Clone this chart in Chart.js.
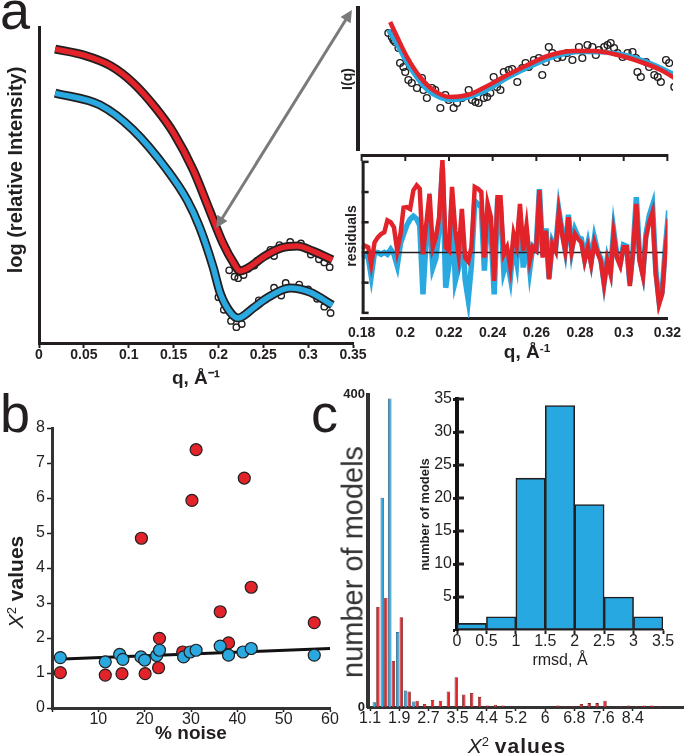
<!DOCTYPE html>
<html><head><meta charset="utf-8">
<script src="https://cdn.jsdelivr.net/npm/chart.js@4.4.1/dist/chart.umd.min.js"></script>
<style>
html,body{margin:0;padding:0;background:#fff;}
#wrap{position:relative;width:689px;height:754px;overflow:hidden;font-family:"Liberation Sans",Arial,Helvetica,sans-serif;color:#231f20;}
canvas{position:absolute;}
.lbl{position:absolute;white-space:nowrap;line-height:1;}
.ctr{transform:translate(-50%,-50%);}
.rot{transform:translate(-50%,-50%) rotate(-90deg);}
.sup{font-size:0.62em;position:relative;top:-0.55em;}
</style></head><body><div id="wrap">
<canvas id="cA" width="375" height="395" style="left:0;top:0"></canvas>
<canvas id="cB" width="349" height="160" style="left:340px;top:0"></canvas>
<canvas id="cC" width="349" height="216" style="left:340px;top:150px"></canvas>
<canvas id="cD" width="345" height="369" style="left:0;top:385px"></canvas>
<canvas id="cE" width="349" height="369" style="left:340px;top:385px"></canvas>
<canvas id="cF" width="274" height="280" style="left:415px;top:390px"></canvas>

<div class="lbl" style="left:0;top:-17px;font-size:54px">a</div>
<div class="lbl" style="left:0;top:386px;font-size:54px">b</div>
<div class="lbl" style="left:311px;top:386px;font-size:54px">c</div>
<div class="lbl rot" style="left:15px;top:170px;font-size:20px;font-weight:bold">log (relative Intensity)</div>
<div class="lbl ctr" style="left:527px;top:351px;font-size:19px;font-weight:bold">q, Å<span class="sup">-1</span></div>
<div class="lbl rot" style="left:15px;top:582px;font-size:21px"><i>X</i><span class="sup">2</span> <b>values</b></div>
<div class="lbl rot" style="left:353px;top:562px;font-size:29px;color:#333">number of models</div>
<div class="lbl ctr" style="left:517px;top:745px;font-size:21px"><i>X</i><span class="sup">2</span> <b style="letter-spacing:1px">values</b></div>

<svg style="position:absolute;left:0;top:0" width="689" height="754">
<defs><marker id="ah" viewBox="0 0 10 10" refX="7" refY="5" markerWidth="4.5" markerHeight="4" orient="auto-start-reverse"><path d="M0,0 L10,5 L0,10 z" fill="#7a7a7a"/></marker></defs>
<line x1="218" y1="225" x2="350" y2="13" stroke="#7a7a7a" stroke-width="3" marker-start="url(#ah)" marker-end="url(#ah)"/>
</svg>
</div>
<script>
// ---------- Panel a: main SAXS curves ----------
const qRedA   = [0.018,0.05,0.08,0.105,0.13,0.15,0.172,0.19,0.205,0.217,0.224,0.235,0.25,0.27,0.288,0.305,0.327];
const logRedA = [9.30,9.11,8.77,8.23,7.44,6.65,5.47,4.21,3.16,2.53,2.28,2.41,2.72,3.01,3.07,2.91,2.63];
const qBlueA   = [0.018,0.068,0.105,0.143,0.165,0.179,0.194,0.202,0.213,0.222,0.239,0.254,0.280,0.302,0.327];
const logBlueA = [7.91,7.53,6.74,5.47,4.53,3.67,2.41,1.58,0.98,0.79,1.11,1.42,1.74,1.61,1.20];
const qRedPts   = [0.212,0.218,0.222,0.228,0.233,0.240,0.243,0.258,0.262,0.268,0.280,0.292,0.303,0.312,0.318,0.324];
const logRedPts = [2.30,2.10,2.05,2.15,2.35,2.45,2.60,2.95,2.75,3.10,3.20,3.15,2.80,2.65,2.55,2.40];
const qBluePts   = [0.200,0.206,0.214,0.220,0.226,0.232,0.245,0.262,0.270,0.275,0.290,0.300,0.310,0.318,0.325];
const logBluePts = [1.45,1.05,0.70,0.50,0.60,0.95,1.35,1.75,1.50,1.90,1.85,1.70,1.40,1.15,0.95];
const qaTicks = [0,0.05,0.1,0.15,0.2,0.25,0.3,0.35];

// ---------- Panel a: I(q) zoom ----------
const qRedI = [0.1943,0.1974,0.2018,0.2076,0.2134,0.2210,0.2286,0.2357,0.2464,0.2553,0.2643,0.2759,0.2848,0.2937,0.3057,0.3146,0.3213];
const iRed  = [126,111,91,71,58,51,53,60,73,83,92,97,97,94,86,78,69];
const qBlueI = [0.1934,0.1974,0.2018,0.2108,0.2224,0.2357,0.2464,0.2553,0.2669,0.2790,0.2937,0.3088,0.3213];
const iBlue  = [118,103,85,58,48,56,70,80,91,96,95,86,73];
const qObs = [0.1935,0.1950,0.1957,0.1965,0.1980,0.1987,0.2002,0.2010,0.2024,0.2039,0.2062,0.2084,0.2091,0.2106,0.2129,0.2143,0.2166,0.2188,0.2203,0.2225,0.2240,0.2262,0.2292,0.2307,0.2322,0.2336,0.2359,0.2374,0.2388,0.2403,0.2418,0.2433,0.2448,0.2470,0.2485,0.2508,0.2530,0.2545,0.2559,0.2582,0.2604,0.2619,0.2634,0.2648,0.2664,0.2686,0.2708,0.2730,0.2753,0.2782,0.2797,0.2820,0.2842,0.2857,0.2871,0.2894,0.2909,0.2923,0.2938,0.2953,0.2976,0.2998,0.3020,0.3035,0.3042,0.3057,0.3080,0.3094,0.3117,0.3132,0.3146,0.3169,0.3183,0.3206];
const iObs = [115,111,108,106,100,85,81,76,68,65,60,70,58,50,60,58,40,53,48,40,45,50,58,48,46,45,50,51,55,71,61,58,76,78,79,66,80,85,81,88,90,73,86,101,95,90,91,95,88,101,90,103,101,93,98,101,103,105,100,95,91,95,96,90,76,71,86,81,73,71,66,88,85,61];

// ---------- Panel a: residuals ----------
const qRes = [0.1800,0.1815,0.1830,0.1844,0.1859,0.1874,0.1889,0.1904,0.1918,0.1933,0.1948,0.1963,0.1978,0.1992,0.2007,0.2022,0.2037,0.2052,0.2066,0.2081,0.2096,0.2111,0.2126,0.2140,0.2155,0.2170,0.2185,0.2200,0.2214,0.2229,0.2244,0.2259,0.2274,0.2288,0.2303,0.2318,0.2333,0.2348,0.2362,0.2377,0.2392,0.2407,0.2422,0.2436,0.2451,0.2466,0.2481,0.2496,0.2510,0.2525,0.2540,0.2555,0.2570,0.2584,0.2599,0.2614,0.2629,0.2644,0.2658,0.2673,0.2688,0.2703,0.2718,0.2732,0.2747,0.2762,0.2777,0.2792,0.2806,0.2821,0.2836,0.2851,0.2866,0.2880,0.2895,0.2910,0.2925,0.2940,0.2954,0.2969,0.2984,0.2999,0.3014,0.3028,0.3043,0.3058,0.3073,0.3088,0.3102,0.3117,0.3132,0.3147,0.3162,0.3176,0.3191,0.3206];
const resRed = [0.11,0.22,0.17,-0.39,0.33,0.50,0.61,0.67,1.06,1.00,0.83,0.06,0.61,1.48,1.50,1.44,2.06,2.22,2.11,-0.06,0.94,1.94,0.17,0.50,1.17,3.06,0.17,0.06,2.17,0.72,-0.06,1.44,-0.17,-0.30,0.17,2.17,2.11,2.00,-0.17,1.61,1.17,-0.94,1.83,1.83,-0.06,0.17,-0.50,0.61,0.22,1.61,0.06,0.89,-0.28,0.17,0.06,2.06,-0.17,0.72,-0.89,0.28,0.06,1.33,0.61,0.06,1.17,0.06,0.61,0.44,0.33,-0.28,0.17,-0.39,0.33,0.00,-0.28,-1.06,-0.28,-0.72,0.61,-0.17,-0.44,0.17,0.17,-1.11,0.06,1.61,-0.28,-0.78,0.50,1.00,1.33,-0.72,-1.72,-1.39,0.06,1.11];
const resBlue = [-0.17,-0.10,-0.15,-0.78,0.00,0.00,-0.06,0.00,-0.06,0.10,-0.06,-0.44,0.30,0.60,0.90,1.10,1.20,1.11,0.90,-1.39,0.50,1.20,-0.50,-0.20,0.80,2.80,-1.17,-0.40,1.70,-0.94,-0.50,0.90,-0.90,-1.56,-0.40,1.70,1.60,1.50,-0.60,1.20,0.80,-1.39,1.60,1.50,-0.60,-0.20,-0.83,0.30,-0.30,1.30,-0.50,0.60,-0.56,0.20,0.10,2.10,-0.10,0.80,-0.85,0.35,0.10,1.40,0.70,0.10,1.25,0.10,0.75,0.50,0.45,-0.20,0.30,-0.30,0.48,0.05,-0.20,-1.00,-0.20,-0.60,0.72,-0.10,-0.35,0.25,0.20,-1.00,0.10,1.83,-0.20,-0.70,0.60,1.22,1.56,-0.60,-1.60,-1.30,0.20,1.39];
const qrTicks = [0.18,0.2,0.22,0.24,0.26,0.28,0.3,0.32];
const resTicks = [-2,-1,0,1,2,3];

// ---------- Panel b ----------
const noiseRed = [1.8,11.5,15.1,20.1,23.0,23.2,19.3,30.2,31.1,28.2,36.3,38.1,41.5,43.0,56.6];
const chiRed   = [1.01,0.94,0.98,0.98,1.15,1.99,4.85,5.93,7.38,1.60,2.75,1.86,6.57,3.45,2.44];
const noiseBlue = [1.8,11.5,14.6,15.3,19.2,20.0,22.6,23.2,28.4,29.8,31.1,36.3,38.1,41.2,43.0,56.6];
const chiBlue   = [1.44,1.32,1.53,1.39,1.46,1.37,1.50,1.65,1.46,1.60,1.65,1.77,1.51,1.60,1.70,1.51];
const fitX = [1,60];
const fitY = [1.39,1.70];

// ---------- Panel c ----------
const binCenters = [1.27,1.49,1.70,1.92,2.14,2.36,2.57,2.79,3.01,3.23,3.45,3.66,3.88,4.10,4.32,4.54,4.75,4.97,5.19,5.41,5.62,5.84,6.06,6.28,6.50,6.71,6.93,7.15,7.37,7.59,7.80,8.02,8.24,8.46,8.68,8.89,9.11];
const countsBlue = [6,268,395,96,21,7,0,0,0,0,0,0,0,0,0,0,0,0,0,0,0,0,0,0,0,0,0,0,0,0,0,0,0,0,0,0,0];
const countsRed  = [128,140,59,115,20,8,4,9,8,20,38,16,18,13,2,3,2,0,0,0,0,0,0,2,1,1,4,5,5,8,0,1,2,1,2,2,1];
const histTickValues = [1.1,1.9125,2.725,3.5375,4.35,5.1625,5.975,6.7875,7.6,8.4125];
const histTickLabels = ['1.1','1.9','2.7','3.5','4.4','5.2','6','6.8','7.6','8.4'];
const rmsdCenters = [0.25,0.75,1.25,1.75,2.25,2.75,3.25];
const rmsdCounts  = [1,2,23,34,19,5,2];

// ---------- common ----------
const RED='#E3232A', BLUE='#29A9E0', INK='#231f20';
const FONT="'Liberation Sans', Arial, Helvetica, sans-serif";
Chart.defaults.font.family=FONT;
Chart.defaults.color=INK;
Chart.defaults.animation=false;
Chart.defaults.plugins.legend.display=false;
Chart.defaults.plugins.tooltip.enabled=false;
const pts=(xs,ys)=>xs.map((x,i)=>({x:x,y:ys[i]}));
const base={responsive:false,devicePixelRatio:1,animation:false,events:[]};
const lineDs=(d,color,w,order)=>({data:d,showLine:true,borderColor:color,borderWidth:w,pointRadius:0,cubicInterpolationMode:'monotone',fill:false,order:order});
const circDs=(d,r,order)=>({data:d,showLine:false,pointStyle:'circle',pointRadius:r,pointBorderWidth:1.4,pointBorderColor:INK,pointBackgroundColor:'rgba(0,0,0,0)',borderColor:INK,backgroundColor:'rgba(0,0,0,0)',order:order});
const fmt=v=>String(+(+v).toFixed(3));

// Chart A
new Chart(document.getElementById('cA'),{type:'scatter',
 data:{datasets:[
  lineDs(pts(qRedA,logRedA),INK,9,6),
  lineDs(pts(qBlueA,logBlueA),INK,9,5),
  circDs(pts(qRedPts,logRedPts),3.2,4),
  circDs(pts(qBluePts,logBluePts),3.2,3),
  lineDs(pts(qRedA,logRedA),RED,5.5,2),
  lineDs(pts(qBlueA,logBlueA),BLUE,5.5,1)
 ]},
 options:Object.assign({},base,{
  layout:{padding:{top:27,right:22,left:0,bottom:0}},
  scales:{
   x:{type:'linear',min:0,max:0.35,offset:false,
      afterFit(s){s.height=52;},
      afterBuildTicks(s){s.ticks=qaTicks.map(v=>({value:v}));},
      ticks:{font:{weight:'bold',size:14,lineHeight:1},padding:0,maxRotation:0,autoSkip:false,callback:v=>fmt(v)},
      grid:{display:true,drawOnChartArea:false,drawTicks:true,tickLength:5,tickWidth:2,tickColor:INK,offset:false},
      border:{display:true,width:3,color:INK},
      title:{display:true,text:'q, Å⁻¹',font:{weight:'bold',size:19},padding:{top:0,bottom:5}}},
   y:{type:'linear',min:0,max:10,
      afterFit(s){s.width=39;},
      ticks:{display:false},grid:{display:false,drawTicks:false},
      border:{display:true,width:3,color:INK}}
  }})
});

// Chart B
new Chart(document.getElementById('cB'),{type:'scatter',
 data:{datasets:[
  circDs(pts(qObs,iObs),3.4,3),
  lineDs(pts(qBlueI,iBlue),BLUE,4.5,2),
  lineDs(pts(qRedI,iRed),RED,4.5,1)
 ]},
 options:Object.assign({},base,{
  layout:{padding:{top:8,right:16,left:0,bottom:10}},
  scales:{
   x:{type:'linear',min:0.18,max:0.32,display:false},
   y:{type:'linear',min:-2,max:140,
      afterFit(s){s.width=18;},
      ticks:{display:false},grid:{display:false,drawTicks:false},
      border:{display:true,width:4,color:INK},
      title:{display:true,text:'I(q)',font:{weight:'bold',size:14,lineHeight:1.1},padding:{top:0,bottom:0}}}
  }})
});

// Chart C residuals
const resFrame={id:'resFrame',afterDraw(ch){
 const ctx=ch.ctx,a=ch.chartArea,x=ch.scales.x,y=ch.scales.y;
 ctx.save();ctx.strokeStyle=INK;ctx.lineCap='butt';
 ctx.lineWidth=3;ctx.beginPath();ctx.moveTo(a.left,a.top+1.5);ctx.lineTo(a.right,a.top+1.5);ctx.stroke();
 ctx.lineWidth=2;
 qrTicks.forEach(v=>{const p=x.getPixelForValue(v);ctx.beginPath();ctx.moveTo(p,a.top);ctx.lineTo(p,a.top+7);ctx.stroke();});
 const yt=y.getPixelForValue(resTicks[resTicks.length-1]),yb=y.getPixelForValue(resTicks[0]);
 ctx.lineWidth=3;ctx.beginPath();ctx.moveTo(a.left+1.5,yt);ctx.lineTo(a.left+1.5,yb);ctx.stroke();
 ctx.lineWidth=2.5;
 resTicks.forEach(v=>{const p=y.getPixelForValue(v);ctx.beginPath();ctx.moveTo(a.left,p);ctx.lineTo(a.left+7,p);ctx.stroke();});
 ctx.restore();}};
new Chart(document.getElementById('cC'),{type:'scatter',
 data:{datasets:[
  Object.assign(lineDs(pts(qRes,resBlue),BLUE,5.5,3),{cubicInterpolationMode:'default',tension:0}),
  Object.assign(lineDs(pts(qrTicks.slice(0,1).concat(qrTicks.slice(-1)),[0,0]),INK,1.5,2),{cubicInterpolationMode:'default',tension:0}),
  Object.assign(lineDs(pts(qRes,resRed),RED,4.5,1),{cubicInterpolationMode:'default',tension:0})
 ]},
 options:Object.assign({},base,{
  layout:{padding:{top:4,right:17,left:0,bottom:0}},
  scales:{
   x:{type:'linear',min:0.18,max:0.32,offset:false,
      afterFit(s){s.height=48;},
      afterBuildTicks(s){s.ticks=qrTicks.map(v=>({value:v}));},
      ticks:{font:{weight:'bold',size:14,lineHeight:1},padding:8,maxRotation:0,autoSkip:false,callback:v=>fmt(v)},
      grid:{display:false,drawTicks:false},
      border:{display:true,width:3,color:INK}},
   y:{type:'linear',min:-2.17,max:3.26,
      afterFit(s){s.width=17;},
      ticks:{display:false},grid:{display:false,drawTicks:false},
      border:{display:false},
      title:{display:true,text:'residuals',font:{weight:'bold',size:14,lineHeight:1.1},padding:{top:0,bottom:0}}}
  }}),
 plugins:[resFrame]
});

// Chart D panel b
const dot=(d,color,order)=>({data:d,showLine:false,pointStyle:'circle',pointRadius:6,pointBorderWidth:1.2,pointBorderColor:INK,pointBackgroundColor:color,backgroundColor:color,borderColor:INK,order:order});
new Chart(document.getElementById('cD'),{type:'scatter',
 data:{datasets:[
  dot(pts(noiseBlue,chiBlue),BLUE,1),
  dot(pts(noiseRed,chiRed),RED,2),
  Object.assign(lineDs(pts(fitX,fitY),'#111',3,3),{cubicInterpolationMode:'default'})
 ]},
 options:Object.assign({},base,{
  layout:{padding:{top:43,right:15,left:0,bottom:0}},
  scales:{
   x:{type:'linear',min:0,max:60,offset:false,
      afterFit(s){s.height=46;},
      ticks:{stepSize:10,font:{size:16,lineHeight:1},padding:0,maxRotation:0,autoSkip:false,callback:v=>v===0?'':v},
      grid:{display:true,drawOnChartArea:false,tickLength:4,tickWidth:1.5,tickColor:INK,offset:false},
      border:{display:true,width:3,color:'#333'},
      title:{display:true,text:'% noise',font:{weight:'bold',size:19},padding:{top:0,bottom:9}}},
   y:{type:'linear',min:0,max:8,
      afterFit(s){s.width=52;},
      ticks:{stepSize:1,font:{size:16,lineHeight:1},padding:2},
      grid:{display:true,drawOnChartArea:false,tickLength:5,tickWidth:1.5,tickColor:INK},
      border:{display:true,width:3,color:'#333'}}
  }})
});

// Chart E histogram
new Chart(document.getElementById('cE'),{type:'bar',
 data:{datasets:[
  {data:pts(binCenters,countsBlue),backgroundColor:BLUE,borderColor:'#25506e',borderWidth:0.8,categoryPercentage:0.95,barPercentage:0.95},
  {data:pts(binCenters,countsRed),backgroundColor:RED,borderColor:'#7a1b1b',borderWidth:0.8,categoryPercentage:0.95,barPercentage:0.95}
 ]},
 options:Object.assign({},base,{
  layout:{padding:{top:5,right:6,left:0,bottom:0}},
  scales:{
   x:{type:'linear',min:1.044,max:9.81,offset:false,
      afterFit(s){s.height=47;},
      afterBuildTicks(s){s.ticks=histTickValues.map(v=>({value:v}));},
      ticks:{font:{size:16,lineHeight:1},padding:0,maxRotation:0,autoSkip:false,callback:(v,i)=>histTickLabels[i]},
      grid:{display:true,drawOnChartArea:false,tickLength:4,tickWidth:1.5,tickColor:INK,offset:false},
      border:{display:true,width:3,color:'#333'}},
   y:{type:'linear',min:0,max:400,
      afterFit(s){s.width=28;},
      ticks:{stepSize:400,font:{size:13,weight:'bold',lineHeight:1},padding:3},
      grid:{display:false,drawTicks:false},
      border:{display:true,width:4,color:'#333'}}
  }})
});

// Chart F inset
const innerTicks={id:'innerTicks',afterDraw(ch){
 const ctx=ch.ctx,y=ch.scales.y,L=ch.chartArea.left;
 ctx.save();ctx.strokeStyle=INK;ctx.lineWidth=3;
 y.ticks.forEach(t=>{if(t.value===0)return;const p=y.getPixelForValue(t.value);ctx.beginPath();ctx.moveTo(L,p);ctx.lineTo(L+7,p);ctx.stroke();});
 ctx.restore();}};
new Chart(document.getElementById('cF'),{type:'bar',
 data:{datasets:[
  {data:pts(rmsdCenters,rmsdCounts),backgroundColor:'#27A8E0',borderColor:INK,borderWidth:1.6,borderSkipped:false,categoryPercentage:1,barPercentage:1}
 ]},
 options:Object.assign({},base,{
  layout:{padding:{top:5,right:26,left:0,bottom:0}},
  scales:{
   x:{type:'linear',min:0,max:3.5,offset:false,
      afterFit(s){s.height=40;},
      ticks:{stepSize:0.5,font:{size:16,lineHeight:1},padding:0,maxRotation:0,autoSkip:false,callback:v=>fmt(v)},
      grid:{display:true,drawOnChartArea:false,tickLength:4,tickWidth:2,tickColor:INK,offset:false},
      border:{display:true,width:1.5,color:INK},
      title:{display:true,text:'rmsd, Å',font:{size:16},padding:{top:0,bottom:0}}},
   y:{type:'linear',min:0,max:35,
      afterFit(s){s.width=42;},
      ticks:{stepSize:5,font:{size:16,lineHeight:1},padding:1,callback:v=>v===0?'':v},
      grid:{display:true,drawOnChartArea:false,tickLength:4,tickWidth:3,tickColor:INK},
      border:{display:true,width:4,color:'#111'},
      title:{display:true,text:'number of models',font:{weight:'bold',size:13,lineHeight:1},padding:{top:4,bottom:0}}}
  }}),
 plugins:[innerTicks]
});
</script>
</body></html>
